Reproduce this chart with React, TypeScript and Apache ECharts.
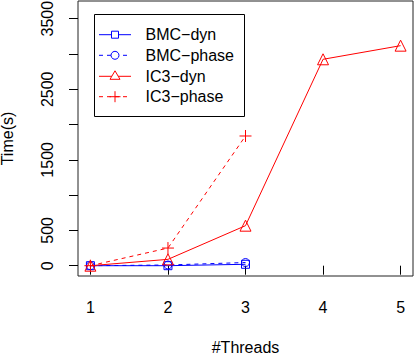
import React, { useEffect, useRef } from "react";
import * as echarts from "echarts";

const threads = [1, 2, 3, 4, 5];
const bmcDyn = [0, 0, 20];
const bmcPhase = [0, 10, 45];
const ic3Dyn = [0, 90, 567, 2925, 3118];
const ic3Phase = [0, 250, 1838];
const yTicks = [0, 500, 1000, 1500, 2000, 2500, 3000, 3500];
const yShownLabels = [0, 500, 1500, 2500, 3500];
const legendNames = ["BMC\u2212dyn", "BMC\u2212phase", "IC3\u2212dyn", "IC3\u2212phase"];

const FONT = "Liberation Sans, Arial, Helvetica, sans-serif";
const FS = 16;
const BLUE = "#0000ff";
const RED = "#ff0000";
const CROSS = "path://M5,0L5,10M0,5L10,5";

function pairs(vals: number[]) {
  return vals.map((v, i) => [threads[i], v]);
}

export default function App() {
  const ref = useRef<HTMLDivElement>(null);
  useEffect(() => {
    if (!ref.current) return;
    const chart = echarts.init(ref.current, null, { renderer: "svg" });

    const rowY = [34.7, 55.3, 76.3, 96.7];
    const colors = [BLUE, BLUE, RED, RED];
    const dashed = [false, true, false, true];
    const sx = 115;
    const legendEls: any[] = [
      {
        type: "rect",
        shape: { x: 94.5, y: 14.5, width: 150, height: 102 },
        style: { fill: "#fff", stroke: "#000", lineWidth: 1 },
        z: 100,
      },
    ];
    rowY.forEach((y, i) => {
      legendEls.push({
        type: "line",
        shape: { x1: 99, y1: y, x2: 131, y2: y },
        style: { stroke: colors[i], lineWidth: 1, lineDash: dashed[i] ? [4, 4] : null },
        z: 101,
      });
      legendEls.push({
        type: "text",
        x: 145.5,
        y: y,
        style: { text: legendNames[i], font: `${FS}px ${FONT}`, fill: "#000", verticalAlign: "middle", align: "left" },
        z: 101,
      });
    });
    legendEls.push({
      type: "rect",
      shape: { x: sx - 3.5, y: rowY[0] - 3.5, width: 7, height: 7 },
      style: { fill: "#fff", stroke: BLUE, lineWidth: 1 },
      z: 102,
    });
    legendEls.push({
      type: "circle",
      shape: { cx: sx, cy: rowY[1], r: 4 },
      style: { fill: "#fff", stroke: BLUE, lineWidth: 1 },
      z: 102,
    });
    legendEls.push({
      type: "polygon",
      shape: { points: [[sx, rowY[2] - 5.5], [sx - 5, rowY[2] + 3], [sx + 5, rowY[2] + 3]] },
      style: { fill: "#fff", stroke: RED, lineWidth: 1 },
      z: 102,
    });
    legendEls.push({
      type: "line",
      shape: { x1: sx - 5.5, y1: rowY[3], x2: sx + 5.5, y2: rowY[3] },
      style: { stroke: RED, lineWidth: 1 },
      z: 102,
    });
    legendEls.push({
      type: "line",
      shape: { x1: sx, y1: rowY[3] - 5.5, x2: sx, y2: rowY[3] + 5.5 },
      style: { stroke: RED, lineWidth: 1 },
      z: 102,
    });

    const mk = (name: string, vals: number[], color: string, dash: boolean, symbol: string, size: number) => ({
      name,
      type: "line",
      data: pairs(vals),
      symbol,
      symbolSize: size,
      showAllSymbol: true,
      lineStyle: { color, width: 1, type: dash ? [4, 4] : "solid" },
      itemStyle: { color: "rgba(0,0,0,0)", borderColor: color, borderWidth: 1 },
      emphasis: { disabled: true },
    });

    chart.setOption({
      animation: false,
      textStyle: { fontFamily: FONT },
      grid: {
        left: 78,
        top: 1,
        right: 2,
        bottom: 78,
        outerBoundsMode: "none",
        containLabel: false,
        show: true,
        borderColor: "#222",
        borderWidth: 1,
        backgroundColor: "transparent",
      },
      xAxis: {
        type: "value",
        min: 0.84,
        max: 5.16,
        name: "#Threads",
        nameLocation: "middle",
        nameGap: 63,
        nameTextStyle: { fontSize: FS, color: "#000", fontFamily: FONT },
        axisLine: { show: false },
        splitLine: { show: false },
        axisTick: { show: true, length: 9, lineStyle: { color: "#000" }, customValues: threads },
        axisLabel: { fontSize: FS, color: "#000", margin: 23, customValues: threads, fontFamily: FONT },
      },
      yAxis: {
        type: "value",
        min: -146,
        max: 3751,
        name: "Time(s)",
        nameLocation: "middle",
        nameGap: 62.5,
        nameTextStyle: { fontSize: FS, color: "#000", fontFamily: FONT },
        axisLine: { show: false },
        splitLine: { show: false },
        axisTick: { show: true, length: 9, lineStyle: { color: "#000" }, customValues: yTicks },
        axisLabel: {
          fontSize: FS,
          color: "#000",
          margin: 23,
          rotate: 90,
          fontFamily: FONT,
          customValues: yShownLabels,
          formatter: (v: number) => String(v),
        },
      },
      graphic: legendEls,
      series: [
        mk("BMC-dyn", bmcDyn, BLUE, false, "rect", 8),
        mk("BMC-phase", bmcPhase, BLUE, true, "circle", 8),
        mk("IC3-dyn", ic3Dyn, RED, false, "triangle", 11),
        mk("IC3-phase", ic3Phase, RED, true, CROSS, 12),
      ],
    });
    return () => chart.dispose();
  }, []);
  return <div ref={ref} style={{ width: 415, height: 354, position: "absolute", left: 0, top: 0 }} />;
}
